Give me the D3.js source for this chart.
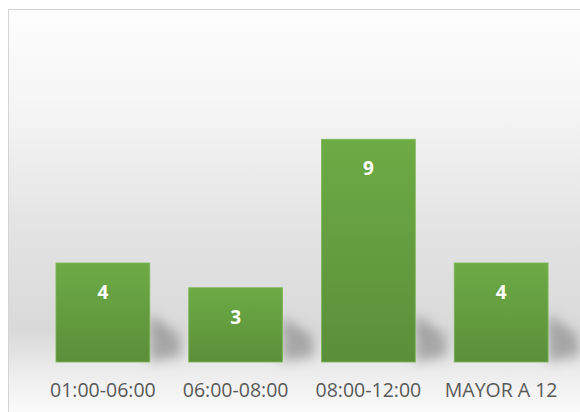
<!DOCTYPE html>
<html>
<head>
<meta charset="utf-8">
<script src="https://cdn.jsdelivr.net/npm/d3@7"></script>
<style>
  html, body { margin: 0; background: #fff; overflow: hidden; }
  svg { display: block; }
</style>
</head>
<body>
<svg id="chart"></svg>
<script>
// data
var categories = ["01:00-06:00", "06:00-08:00", "08:00-12:00", "MAYOR A 12"];
var values = [4, 3, 9, 4];

var width = 580, height = 412;
var svg = d3.select("#chart").attr("width", width).attr("height", height);
var defs = svg.append("defs");

// background gradient
var bg = defs.append("linearGradient").attr("id", "bg")
    .attr("gradientUnits", "userSpaceOnUse")
    .attr("x1", 0).attr("y1", 10).attr("x2", 0).attr("y2", 412);
bg.append("stop").attr("offset", "0%").attr("stop-color", "#fdfdfd");
bg.append("stop").attr("offset", "22%").attr("stop-color", "#f6f6f6");
bg.append("stop").attr("offset", "55%").attr("stop-color", "#e3e3e3");
bg.append("stop").attr("offset", "80%").attr("stop-color", "#d9d9d9");
bg.append("stop").attr("offset", "90%").attr("stop-color", "#ececec");
bg.append("stop").attr("offset", "100%").attr("stop-color", "#fbfbfb");

var barGrad = defs.append("linearGradient").attr("id", "barGrad")
    .attr("x1", 0).attr("y1", 0).attr("x2", 0).attr("y2", 1);
barGrad.append("stop").attr("offset", "0%").attr("stop-color", "#6dab45");
barGrad.append("stop").attr("offset", "100%").attr("stop-color", "#5b8f3a");

defs.append("filter").attr("id", "blur")
    .attr("x", "-50%").attr("y", "-50%").attr("width", "200%").attr("height", "200%")
  .append("feGaussianBlur").attr("stdDeviation", 6);

// chart area frame
svg.append("rect")
    .attr("x", 8.5).attr("y", 9.5)
    .attr("width", 600).attr("height", 420)
    .attr("fill", "url(#bg)")
    .attr("stroke", "#d4d4d4");

var x = d3.scaleBand()
    .domain(categories)
    .range([36.5, 567.5])
    .paddingInner(0.293)
    .paddingOuter(0.1465);

var y = d3.scaleLinear()
    .domain([0, 10])
    .range([362, 114.5]);

// shadows
svg.append("g").selectAll("path")
    .data(values)
    .enter()
    .append("path")
    .attr("filter", "url(#blur)")
    .attr("fill", "#6e6e6e")
    .attr("opacity", 0.5)
    .attr("d", function(d, i) {
        var x0 = x(categories[i]), w = x.bandwidth(), y0 = y(0);
        var h = Math.min(y0 - y(d), 80);
        return "M" + (x0 + w) + "," + (y0 - h * 0.6) +
               "L" + (x0 + w + 30) + "," + (y0 - 26) +
               "L" + (x0 + w + 32) + "," + (y0 - 6) +
               "L" + (x0 + w) + "," + y0 + "Z";
    });

// bars
svg.append("g").selectAll("rect")
    .data(values)
    .enter()
    .append("rect")
    .attr("x", function(d, i) { return x(categories[i]); })
    .attr("y", function(d) { return y(d); })
    .attr("width", x.bandwidth())
    .attr("height", function(d) { return y(0) - y(d); })
    .attr("fill", "url(#barGrad)")
    .attr("stroke", "#7cb955")
    .attr("stroke-width", 0.8);

// value labels
svg.append("g").selectAll("text")
    .data(values)
    .enter()
    .append("text")
    .attr("x", function(d, i) { return x(categories[i]) + x.bandwidth() / 2; })
    .attr("y", function(d) { return y(d) + 36; })
    .attr("text-anchor", "middle")
    .attr("font-family", "'Open Sans', sans-serif")
    .attr("font-weight", "bold")
    .attr("font-size", "19px")
    .attr("fill", "#ffffff")
    .text(function(d) { return d; });

// category axis
var xAxis = d3.axisBottom(x).tickSize(0).tickPadding(0);
var ax = svg.append("g")
    .attr("transform", "translate(0," + 383 + ")")
    .call(xAxis);
ax.select(".domain").remove();
ax.selectAll("text")
    .attr("font-family", "'Open Sans', sans-serif")
    .attr("font-size", "19.5px")
    .attr("fill", "#595959");
</script>
</body>
</html>
